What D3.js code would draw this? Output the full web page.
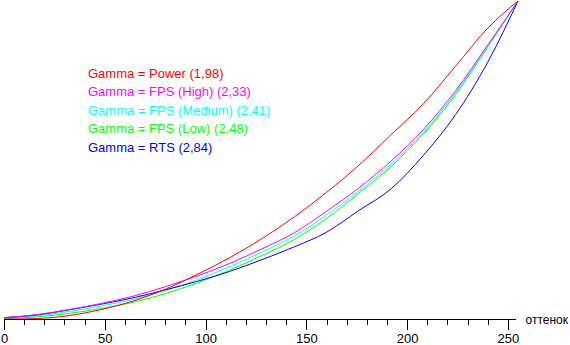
<!DOCTYPE html>
<html>
<head>
<meta charset="utf-8">
<script src="https://cdn.jsdelivr.net/npm/d3@7"></script>
<style>
  html, body { margin: 0; padding: 0; background: #fff; }
  svg { display: block; }
  text { font-family: Arial, "Liberation Sans", sans-serif; }
</style>
</head>
<body>
<svg id="chart" width="570" height="345"></svg>
<script>
// ---- data ----
const shades = [0, 16, 32, 48, 64, 80, 96, 112, 128, 144, 160, 176, 192, 208, 224, 240, 255];
const gammaPower   = [0.001, 0.003, 0.012, 0.031, 0.058, 0.095, 0.142, 0.194, 0.254, 0.322, 0.399, 0.484, 0.580, 0.677, 0.795, 0.915, 1.000];
const gammaFpsHigh = [0.006, 0.015, 0.031, 0.050, 0.073, 0.103, 0.137, 0.176, 0.222, 0.272, 0.340, 0.413, 0.497, 0.596, 0.718, 0.862, 1.000];
const gammaFpsMed  = [0.005, 0.011, 0.025, 0.042, 0.063, 0.091, 0.125, 0.166, 0.212, 0.262, 0.328, 0.404, 0.488, 0.588, 0.712, 0.858, 1.000];
const gammaFpsLow  = [0.003, 0.008, 0.019, 0.034, 0.054, 0.081, 0.115, 0.155, 0.201, 0.251, 0.317, 0.396, 0.480, 0.582, 0.706, 0.855, 1.000];
const gammaRts     = [0.006, 0.014, 0.030, 0.048, 0.068, 0.093, 0.120, 0.151, 0.188, 0.228, 0.274, 0.342, 0.410, 0.515, 0.643, 0.808, 1.000];
const seriesNames  = ["Gamma = Power (1,98)", "Gamma = FPS (High) (2,33)", "Gamma = FPS (Medium) (2,41)", "Gamma = FPS (Low) (2,48)", "Gamma = RTS (2,84)"];
const seriesColors = ["#ff0000", "#ff00ff", "#00ffff", "#00ff00", "#0000ff"];
const xTicks = [0, 50, 100, 150, 200, 250];
const xMinorTicks = d3.range(0, 251, 10);
const axisLabel = "оттенок";

// ---- layout ----
const svg = d3.select("#chart");
const x = d3.scaleLinear().domain([0, 255]).range([4, 518]);
const y = d3.scaleLinear().domain([0, 1]).range([319.5, 1]);
const axisY = 319.5;

const allSeries = [gammaPower, gammaFpsHigh, gammaFpsMed, gammaFpsLow, gammaRts];
const drawOrder = [3, 2, 4, 1, 0];

const line = d3.line()
  .curve(d3.curveMonotoneX)
  .x((d, i) => x(shades[i]))
  .y(d => y(d));

svg.append("g").selectAll("path")
  .data(drawOrder)
  .join("path")
  .attr("d", k => line(allSeries[k]))
  .attr("fill", "none")
  .attr("stroke", k => seriesColors[k])
  .attr("stroke-width", 1);

// axis line
const ax = svg.append("g");
ax.append("line")
  .attr("x1", x(0)).attr("x2", 516)
  .attr("y1", axisY).attr("y2", axisY)
  .attr("stroke", "#000").attr("stroke-width", 1)
  .attr("shape-rendering", "crispEdges");

ax.selectAll("line.minor")
  .data(xMinorTicks)
  .join("line")
  .attr("class", "minor")
  .attr("x1", d => Math.round(x(d)) + 0.5).attr("x2", d => Math.round(x(d)) + 0.5)
  .attr("y1", axisY).attr("y2", d => d % 50 === 0 ? axisY + 10 : axisY + 5)
  .attr("stroke", "#000").attr("stroke-width", 1)
  .attr("shape-rendering", "crispEdges");

ax.selectAll("text.tick")
  .data(xTicks)
  .join("text")
  .attr("class", "tick")
  .attr("x", d => x(d) + 0.5)
  .attr("y", 343)
  .attr("text-anchor", "middle")
  .attr("font-size", 13)
  .attr("fill", "#000")
  .text(d => d);

ax.append("text")
  .attr("x", 568)
  .attr("y", 324)
  .attr("text-anchor", "end")
  .attr("font-size", 12)
  .attr("fill", "#000")
  .text(axisLabel);

// legend
svg.append("g").selectAll("text")
  .data(seriesNames)
  .join("text")
  .attr("x", 88)
  .attr("y", (d, i) => 77.5 + i * 18.5)
  .attr("font-size", 13)
  .attr("fill", (d, i) => seriesColors[i])
  .text(d => d);
</script>
</body>
</html>
